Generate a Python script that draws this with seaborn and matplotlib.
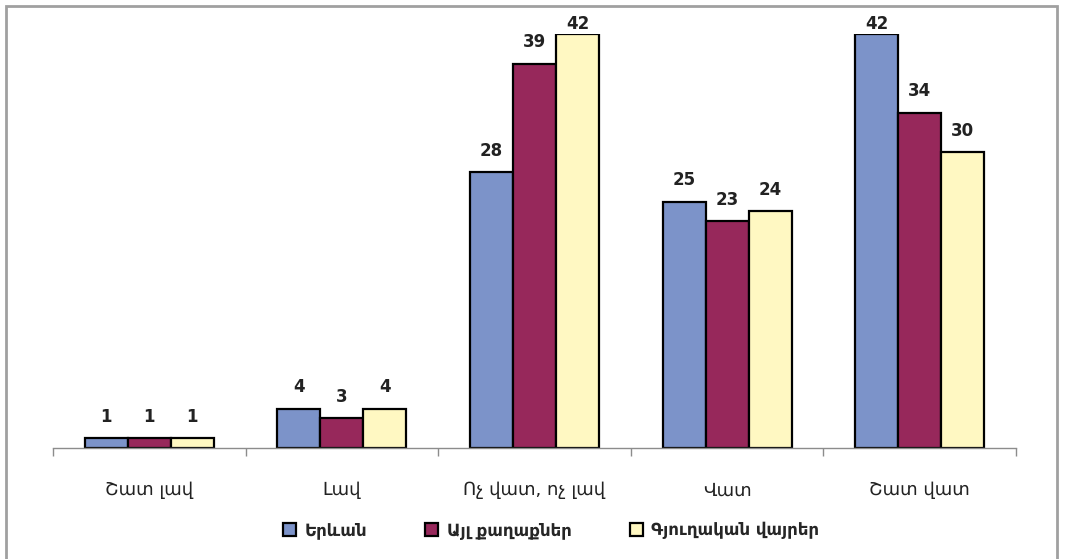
import pandas as pd
import matplotlib.pyplot as plt
import seaborn as sns
from matplotlib.patches import Rectangle

categories = ["Շատ լավ", "Լավ", "Ոչ վատ, ոչ լավ", "Վատ", "Շատ վատ"]
series = ["Երևան", "Այլ քաղաքներ", "Գյուղական վայրեր"]
yerevan = [1, 4, 28, 25, 42]
other_cities = [1, 3, 39, 23, 34]
rural = [1, 4, 42, 24, 30]
colors = ["#7C93C9", "#97285B", "#FFF8C2"]

df = pd.DataFrame(
    {
        "Category": categories * 3,
        "Group": [s for s in series for _ in categories],
        "Value": yerevan + other_cities + rural,
    }
)

sns.set_style("white")
plt.rcParams["font.family"] = ["DejaVu Sans"]

fig = plt.figure(figsize=(10.65, 5.59), dpi=100)
W, H = 1065, 559
ax = fig.add_axes([53 / W, (H - 448) / H, (1016 - 53) / W, 414 / H])

sns.barplot(
    data=df,
    x="Category",
    y="Value",
    hue="Group",
    order=categories,
    hue_order=series,
    palette=colors,
    width=0.67,
    edgecolor="black",
    linewidth=1.6,
    saturation=1,
    ax=ax,
    legend=False,
)

# labels above bars; the tallest ones get squeezed under the top edge like Excel does
for cont in ax.containers:
    for bar in cont:
        v = bar.get_height()
        pad = 9 if v < 41 else 1
        ax.annotate(
            f"{v:.0f}",
            (bar.get_x() + bar.get_width() / 2, v),
            xytext=(0, pad),
            textcoords="offset points",
            ha="center",
            va="bottom",
            fontsize=12,
            fontweight="bold",
            color="#222222",
            annotation_clip=False,
        )

ax.set_ylim(0, 42)
ax.set_xlim(-0.5, 4.5)
ax.set_xlabel("")
ax.set_ylabel("")
ax.set_yticks([])
for s in ["top", "left", "right"]:
    ax.spines[s].set_visible(False)
ax.spines["bottom"].set_color("#8C8C8C")
ax.spines["bottom"].set_linewidth(1)

ax.set_xticks(range(len(categories)))
ax.set_xticklabels(categories, fontsize=13, color="#222222")
ax.tick_params(axis="x", which="major", length=0, pad=24)
ax.set_xticks([i - 0.5 for i in range(len(categories) + 1)], minor=True)
ax.tick_params(axis="x", which="minor", bottom=True, direction="out",
               length=6, color="#8C8C8C", width=1)

handles = [
    Rectangle((0, 0), 1, 1, facecolor=c, edgecolor="black", linewidth=1.6)
    for c in colors
]
fig.legend(
    handles,
    series,
    loc="center",
    bbox_to_anchor=(551 / W, (H - 530) / H),
    ncol=3,
    frameon=False,
    prop={"size": 12, "weight": "bold"},
    handlelength=0.8,
    handleheight=0.8,
    handletextpad=0.5,
    columnspacing=3.5,
)

fig.patches.append(
    Rectangle(
        (6 / W, -0.05),
        (1057 - 6) / W,
        1.05 - 6 / H,
        transform=fig.transFigure,
        fill=False,
        edgecolor="#A0A0A0",
        linewidth=2,
    )
)

plt.savefig("out.png", dpi=100)
